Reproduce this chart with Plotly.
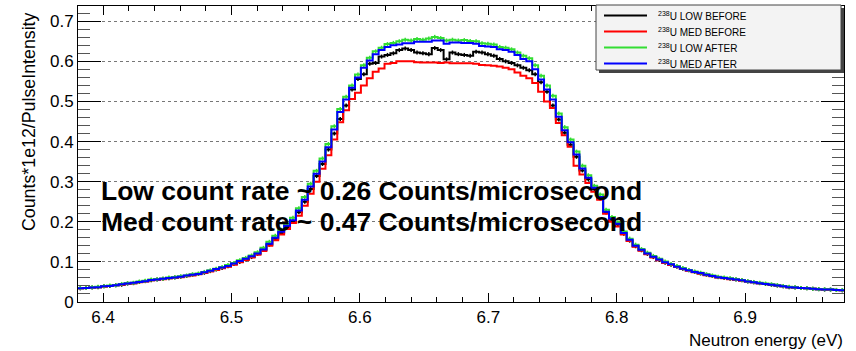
import numpy as np
import plotly.graph_objects as go

# ---------------- data ----------------
energy_lo = 6.38       # lower edge of first bin (eV)
bin_width = 0.0046     # eV
series_names = ["LOW BEFORE", "MED BEFORE", "LOW AFTER", "MED AFTER"]

low_before = [
0.034,0.035,0.036,0.037,0.039,0.040,0.042,0.043,0.046,0.047,
0.050,0.052,0.054,0.056,0.058,0.059,0.061,0.063,0.065,0.068,
0.070,0.073,0.077,0.081,0.085,0.089,0.095,0.100,0.106,0.112,
0.120,0.130,0.143,0.158,0.172,0.187,0.201,0.224,0.250,0.282,
0.314,0.344,0.380,0.420,0.456,0.490,0.530,0.556,0.568,0.594,
0.596,0.612,0.616,0.620,0.628,0.632,0.628,0.622,0.620,0.618,
0.633,0.628,0.605,0.622,0.618,0.616,0.614,0.624,0.622,0.618,
0.614,0.606,0.600,0.596,0.590,0.584,0.578,0.568,0.548,0.524,
0.490,0.455,0.422,0.392,0.362,0.328,0.306,0.282,0.258,0.223,
0.205,0.193,0.170,0.153,0.139,0.129,0.120,0.112,0.105,0.098,
0.093,0.088,0.083,0.079,0.075,0.071,0.068,0.065,0.062,0.060,
0.058,0.056,0.054,0.051,0.049,0.047,0.045,0.043,0.041,0.039,
0.037,0.036,0.035,0.034,0.033,0.032,0.031,0.031,0.030,0.029]

med_before = [
0.034,0.035,0.036,0.037,0.038,0.040,0.042,0.043,0.045,0.047,
0.049,0.051,0.054,0.055,0.057,0.059,0.060,0.062,0.064,0.066,
0.069,0.072,0.076,0.080,0.084,0.088,0.093,0.099,0.105,0.111,
0.118,0.127,0.140,0.154,0.168,0.182,0.197,0.215,0.240,0.270,
0.300,0.332,0.366,0.405,0.448,0.478,0.506,0.522,0.540,0.558,
0.574,0.582,0.594,0.596,0.600,0.600,0.600,0.598,0.597,0.597,
0.597,0.596,0.597,0.595,0.595,0.595,0.595,0.594,0.591,0.590,
0.589,0.587,0.584,0.580,0.572,0.564,0.558,0.546,0.524,0.500,
0.484,0.446,0.416,0.387,0.340,0.318,0.297,0.275,0.255,0.220,
0.200,0.188,0.168,0.152,0.138,0.128,0.119,0.111,0.104,0.097,
0.092,0.087,0.082,0.078,0.074,0.071,0.067,0.064,0.061,0.059,
0.057,0.055,0.053,0.051,0.049,0.047,0.045,0.043,0.041,0.039,
0.037,0.036,0.035,0.034,0.033,0.032,0.031,0.030,0.030,0.029]

low_after = [
0.035,0.035,0.037,0.038,0.039,0.041,0.042,0.045,0.047,0.048,
0.051,0.053,0.056,0.057,0.058,0.061,0.062,0.064,0.066,0.069,
0.071,0.075,0.079,0.083,0.087,0.092,0.097,0.104,0.110,0.116,
0.124,0.135,0.150,0.165,0.180,0.195,0.210,0.234,0.262,0.295,
0.327,0.358,0.394,0.438,0.481,0.512,0.540,0.567,0.590,0.609,
0.625,0.634,0.643,0.646,0.650,0.654,0.652,0.656,0.654,0.657,
0.661,0.658,0.652,0.654,0.652,0.653,0.651,0.650,0.645,0.644,
0.642,0.636,0.634,0.630,0.622,0.614,0.608,0.590,0.564,0.540,
0.514,0.470,0.436,0.405,0.375,0.340,0.316,0.290,0.268,0.230,
0.212,0.199,0.176,0.158,0.143,0.132,0.123,0.115,0.108,0.101,
0.095,0.090,0.085,0.080,0.076,0.073,0.069,0.066,0.063,0.061,
0.059,0.057,0.055,0.052,0.050,0.048,0.046,0.044,0.042,0.040,
0.038,0.037,0.035,0.034,0.033,0.032,0.032,0.031,0.030,0.030]

med_after = [
0.034,0.035,0.036,0.037,0.039,0.040,0.042,0.044,0.046,0.048,
0.050,0.052,0.055,0.056,0.058,0.060,0.061,0.063,0.066,0.068,
0.070,0.074,0.078,0.082,0.086,0.090,0.096,0.102,0.108,0.114,
0.121,0.131,0.145,0.160,0.175,0.190,0.204,0.228,0.255,0.288,
0.320,0.350,0.386,0.430,0.474,0.505,0.534,0.560,0.584,0.602,
0.618,0.628,0.636,0.640,0.642,0.645,0.645,0.649,0.649,0.649,
0.652,0.652,0.644,0.647,0.647,0.646,0.646,0.644,0.638,0.637,
0.636,0.630,0.628,0.624,0.616,0.606,0.600,0.580,0.555,0.530,
0.505,0.462,0.428,0.398,0.368,0.333,0.310,0.285,0.262,0.225,
0.208,0.195,0.172,0.155,0.140,0.130,0.121,0.113,0.106,0.099,
0.094,0.088,0.083,0.079,0.075,0.072,0.068,0.065,0.062,0.060,
0.058,0.056,0.054,0.051,0.049,0.047,0.045,0.043,0.041,0.039,
0.037,0.036,0.035,0.034,0.033,0.032,0.031,0.031,0.030,0.029]

err_low = 0.005  # approx. statistical error bar size on LOW series

x_ticks = [6.4, 6.5, 6.6, 6.7, 6.8, 6.9]
y_ticks = [0, 0.1, 0.2, 0.3, 0.4, 0.5, 0.6, 0.7]
y_ticklabels = ["0", "0.1", "0.2", "0.3", "0.4", "0.5", "0.6", "0.7"]

# ---------------- figure ----------------
nb = len(med_after)
edges = energy_lo + bin_width * np.arange(nb + 1)
centers = 0.5 * (edges[:-1] + edges[1:])

colors = {"LOW BEFORE": "black", "MED BEFORE": "#ff0000",
          "LOW AFTER": "#33dd33", "MED AFTER": "#0000ff"}
data = {"LOW BEFORE": low_before, "MED BEFORE": med_before,
        "LOW AFTER": low_after, "MED AFTER": med_after}

fig = go.Figure()
for name in series_names:
    vals = data[name]
    fig.add_trace(go.Scatter(
        x=edges, y=list(vals) + [vals[-1]], mode="lines",
        line=dict(color=colors[name], width=2, shape="hv"),
        name=name, showlegend=False, hoverinfo="skip"))
    if "LOW" in name:
        fig.add_trace(go.Scatter(
            x=centers, y=vals, mode="markers",
            marker=dict(size=1, color=colors[name]),
            error_y=dict(type="constant", value=err_low, width=0,
                         thickness=1.5, color=colors[name]),
            showlegend=False, hoverinfo="skip"))

FONT = "Liberation Sans, Arial, sans-serif"
L, R, T, B = 78, 12, 6, 49
W, H = 856, 351
pw, ph = W - L - R, H - T - B

def px(x):
    return (x - L) / pw

def py(y):
    return (H - B - y) / ph

fig.update_layout(
    width=W, height=H, margin=dict(l=L, r=R, t=T, b=B),
    plot_bgcolor="white", paper_bgcolor="white", showlegend=False,
    font=dict(family=FONT, size=17, color="black"),
    xaxis=dict(range=[6.3805, 6.977], tickmode="array", tickvals=x_ticks,
               ticktext=[f"{v:.1f}" for v in x_ticks],
               ticks="inside", ticklen=9, tickwidth=1, tickcolor="black",
               showline=True, linecolor="black", linewidth=1, mirror="ticks",
               showgrid=False, zeroline=False,
               minor=dict(tick0=6.4, dtick=0.02, ticks="inside", ticklen=5,
                          tickcolor="black", showgrid=False),
               tickfont=dict(size=17, family=FONT)),
    yaxis=dict(range=[0, 0.738], tickmode="array", tickvals=y_ticks,
               ticktext=y_ticklabels,
               ticks="inside", ticklen=23, tickwidth=1, tickcolor="black",
               showline=True, linecolor="black", linewidth=1, mirror="ticks",
               showgrid=True, gridcolor="#777777", griddash="dot", gridwidth=1,
               zeroline=False,
               minor=dict(tick0=0, dtick=0.02, ticks="inside", ticklen=12,
                          tickcolor="#555555", showgrid=False),
               tickfont=dict(size=17, family=FONT)),
)

ann = []
ann.append(dict(text="Neutron energy (eV)", xref="paper", yref="paper",
                x=px(845), y=py(340), xanchor="right", yanchor="middle",
                showarrow=False, font=dict(size=17, family=FONT)))
ann.append(dict(text="Counts*1e12/PulseIntensity", xref="paper", yref="paper",
                x=px(29), y=py(122), xanchor="center", yanchor="middle",
                textangle=-90, showarrow=False, font=dict(size=17.8, family=FONT)))
ann.append(dict(text="Low count rate ~ 0.26 Counts/microsecond", xref="paper",
                yref="paper", x=px(99), y=py(191), xanchor="left", yanchor="middle",
                showarrow=False, font=dict(size=26.5, family=FONT, weight="bold")))
ann.append(dict(text="Med count rate ~ 0.47 Counts/microsecond", xref="paper",
                yref="paper", x=px(99), y=py(222), xanchor="left", yanchor="middle",
                showarrow=False, font=dict(size=26.5, family=FONT, weight="bold")))

# legend box drawn manually (ROOT style)
shapes = []
shapes.append(dict(type="rect", xref="paper", yref="paper",
                   x0=px(599), x1=px(844), y0=py(73), y1=py(8),
                   fillcolor="#444444", line=dict(width=0), layer="above"))
shapes.append(dict(type="rect", xref="paper", yref="paper",
                   x0=px(596), x1=px(841), y0=py(70), y1=py(5),
                   fillcolor="#f3f3f3", line=dict(color="#444444", width=1),
                   layer="above"))
rows = [15.5, 31.5, 47.5, 63.5]
for name, yy in zip(series_names, rows):
    shapes.append(dict(type="line", xref="paper", yref="paper",
                       x0=px(604), x1=px(647), y0=py(yy), y1=py(yy),
                       line=dict(color=colors[name], width=2), layer="above"))
    ann.append(dict(text="<sup>238</sup>U " + name, xref="paper", yref="paper",
                    x=px(656), y=py(yy), xanchor="left", yanchor="middle",
                    showarrow=False, font=dict(size=10, family=FONT)))

fig.update_layout(annotations=ann, shapes=shapes)
fig.write_html("out.html", config={"displayModeBar": False},
               post_script="document.body.style.margin='0';"
                           "document.body.style.overflow='hidden';")
